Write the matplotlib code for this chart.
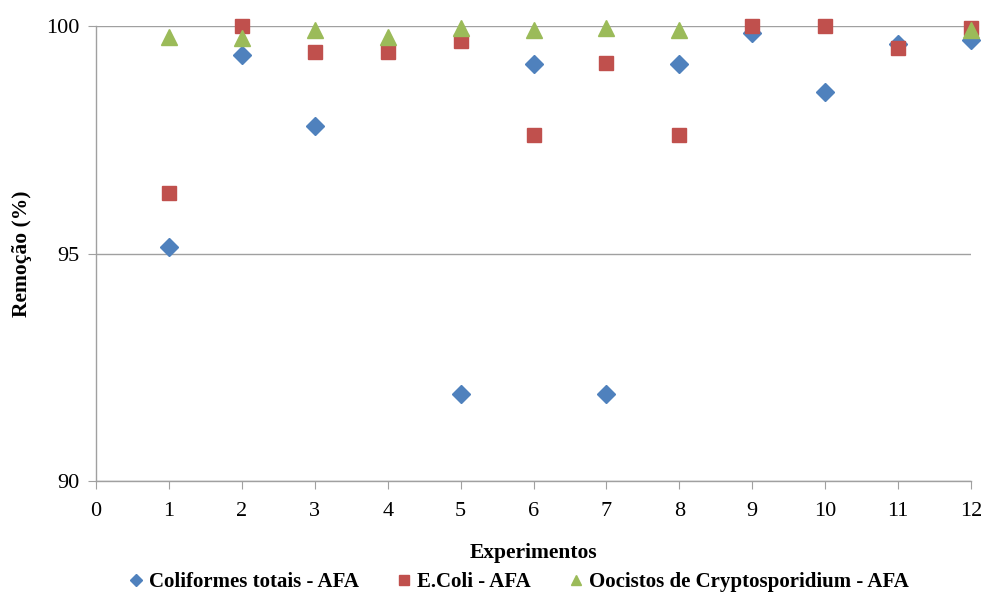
import matplotlib
matplotlib.use("Agg")
import matplotlib.pyplot as plt
import numpy as np

plt.rcParams['font.family'] = ['Liberation Serif', 'DejaVu Serif']

nan = np.nan
experimentos = [1, 2, 3, 4, 5, 6, 7, 8, 9, 10, 11, 12]
coliformes = [95.14, 99.36, 97.80, nan, 91.91, 99.16, 91.91, 99.16, 99.85, 98.56, 99.60, 99.69]
ecoli = [96.33, 100.0, 99.42, 99.42, 99.66, 97.60, 99.18, 97.60, 100.0, 100.0, 99.51, 99.95]
oocistos = [99.76, 99.73, 99.91, 99.76, 99.95, 99.91, 99.95, 99.91, nan, nan, nan, 99.91]

series_labels = ['Coliformes totais - AFA', 'E.Coli - AFA', 'Oocistos de Cryptosporidium - AFA']
x_ticks = list(range(0, 13))
y_ticks = [90, 95, 100]

fig = plt.figure(figsize=(9.87, 6.01), dpi=100)
ax = fig.add_axes([0.0973, 0.1997, 0.8865, 0.757])

ax.plot(experimentos, coliformes, linestyle='none', marker='D', ms=9,
        color='#4F81BD', mec='#4F81BD', label=series_labels[0], clip_on=False, zorder=3)
ax.plot(experimentos, ecoli, linestyle='none', marker='s', ms=10,
        color='#C0504D', mec='#C0504D', label=series_labels[1], clip_on=False, zorder=4)
ax.plot(experimentos, oocistos, linestyle='none', marker='^', ms=11,
        color='#9BBB59', mec='#9BBB59', label=series_labels[2], clip_on=False, zorder=5)

ax.set_xlim(0, 12)
ax.set_ylim(90, 100)
ax.set_xticks(x_ticks)
ax.set_yticks(y_ticks)
ax.grid(axis='y', color='#A0A0A0', linewidth=1)
ax.set_axisbelow(True)
for s in ['top', 'right']:
    ax.spines[s].set_visible(False)
for s in ['left', 'bottom']:
    ax.spines[s].set_color('#A0A0A0')
    ax.spines[s].set_linewidth(1)
ax.tick_params(axis='both', direction='out', color='#A0A0A0', length=6, labelsize=16)
ax.tick_params(axis='x', pad=9)
ax.tick_params(axis='y', pad=6)

ax.set_xlabel('Experimentos', fontsize=15.5, fontweight='bold', labelpad=16)
ax.set_ylabel('Remoção (%)', fontsize=15.5, fontweight='bold', labelpad=10)

fig.legend(loc='lower center', bbox_to_anchor=(0.524, -0.016), ncol=3, frameon=False,
           prop={'size': 15, 'weight': 'bold'}, handletextpad=0.1, columnspacing=1.7,
           markerscale=0.7, handlelength=1.0)

fig.savefig('out.png', dpi=100)
